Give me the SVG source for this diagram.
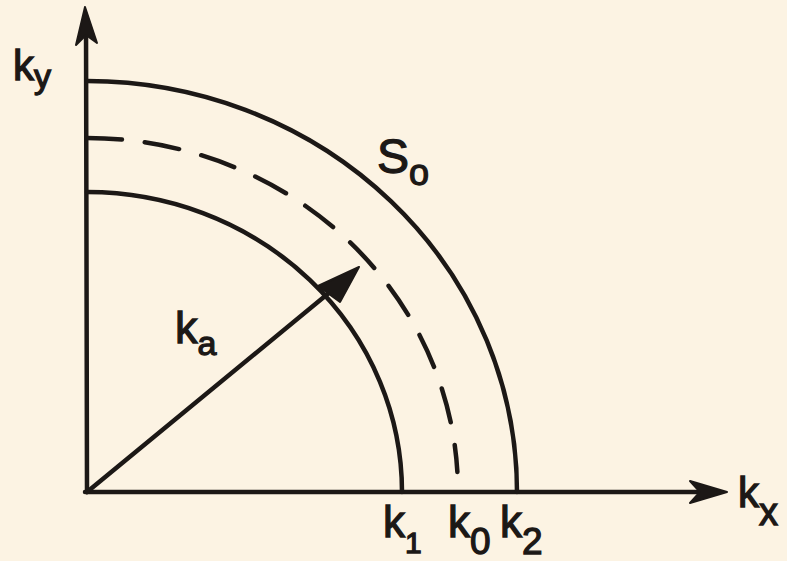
<svg xmlns="http://www.w3.org/2000/svg" width="787" height="561" viewBox="0 0 787 561">
<style>
.ln{fill:none;stroke:#1c1816;stroke-width:4.5;stroke-linecap:round}
.hd{fill:#1c1816;stroke:#1c1816;stroke-width:2;stroke-linejoin:round}
.t{font-family:"Liberation Sans",Arial,sans-serif;fill:#1c1816;stroke:#1c1816;stroke-width:1.3}
</style>
<rect width="787" height="561" fill="#fcf3e3"/>
<g id="connectors">
<g id="y-axis">
<line class="ln" x1="87" y1="492" x2="86" y2="20"/>
<path class="hd" d="M85,7 L76,45 L86,35 L97,43 Z"/>
</g>
<g id="x-axis">
<line class="ln" x1="85" y1="492" x2="715" y2="492"/>
<path class="hd" d="M727,492 L690,481 L700,492 L690,503 Z"/>
</g>
<g id="ka-vector">
<line class="ln" x1="87" y1="492" x2="330" y2="292"/>
<path class="hd" d="M359,267 L318,286 L340,302 Z"/>
</g>
</g>
<g id="arc-k2">
<path class="ln" d="M87,81 A430,411 0 0 1 517,492"/>
</g>
<g id="arc-k0">
<path class="ln" d="M87,138 A371,354 0 0 1 457.4,472" stroke-dasharray="35 23" stroke-linecap="butt"/>
</g>
<g id="arc-k1">
<path class="ln" d="M87,192 A315,300 0 0 1 402,492"/>
</g>
<g id="labels">
<text class="t" x="13" y="80" font-size="42">k<tspan font-size="34" dy="8">y</tspan></text>
<text class="t" x="738" y="507" font-size="42">k<tspan font-size="38" dy="18">x</tspan></text>
<text class="t" x="383" y="537" font-size="44">k<tspan font-size="30" dy="16">1</tspan></text>
<text class="t" x="448" y="537" font-size="44">k<tspan font-size="37" dy="17">0</tspan></text>
<text class="t" x="500" y="537" font-size="44">k<tspan font-size="37" dy="17">2</tspan></text>
<text class="t" x="175" y="343" font-size="45">k<tspan font-size="34" dy="12">a</tspan></text>
<text class="t" x="377" y="173" font-size="48">S<tspan font-size="36" dy="12">o</tspan></text>
</g>
</svg>
